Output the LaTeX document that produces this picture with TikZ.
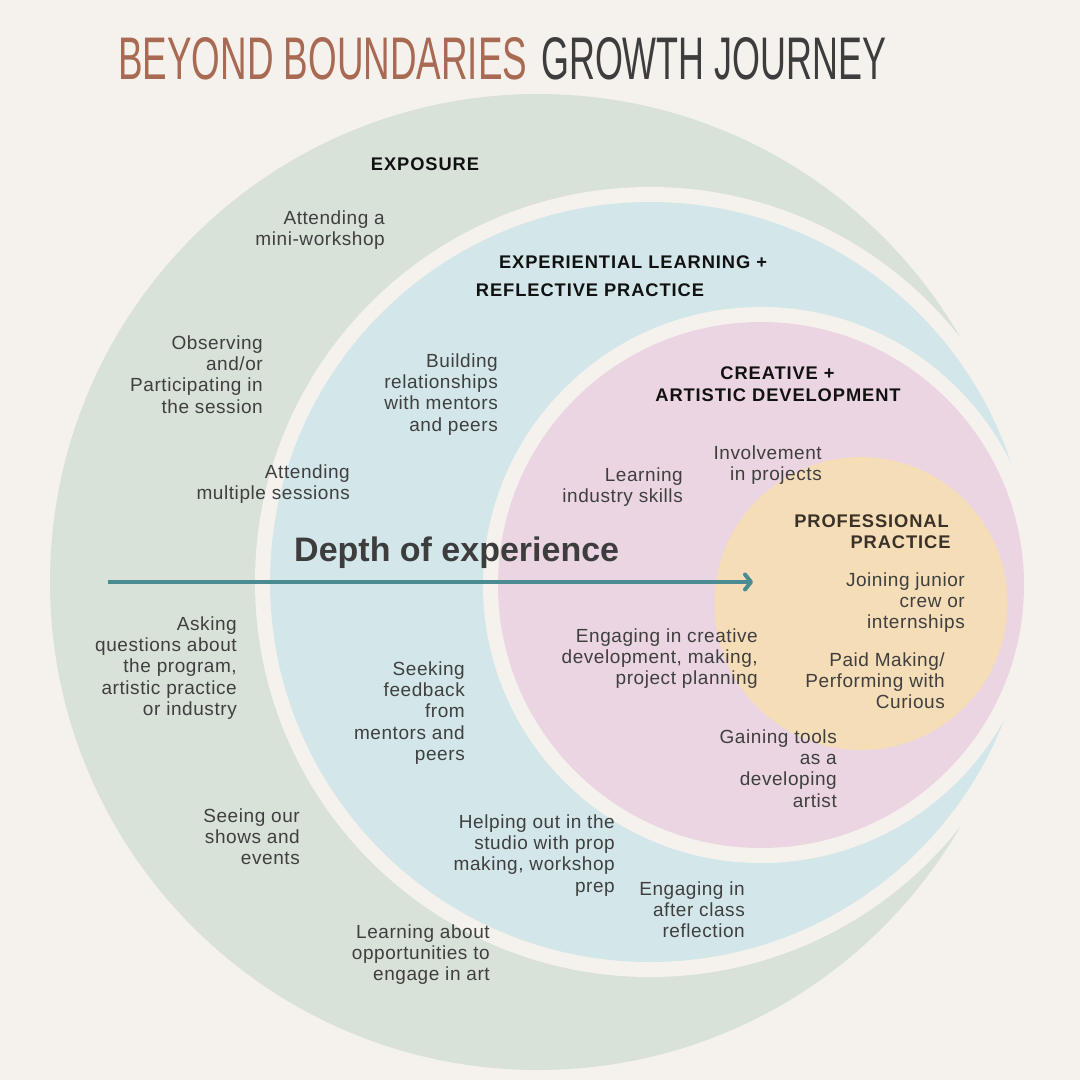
\documentclass[tikz,border=0pt]{standalone}
\usepackage{fontspec}
\usetikzlibrary{arrows.meta}
\setmainfont{Liberation Sans}
\newfontfamily\bodyfont[LetterSpace=3]{Liberation Sans}
\newfontfamily\headfont[LetterSpace=5]{Liberation Sans}
\newfontfamily\depthfont{Liberation Sans}
\newfontfamily\titlefont{Liberation Sans}
\definecolor{bgc}{HTML}{F5F2ED}
\definecolor{greenc}{HTML}{D8E2D8}
\definecolor{bluec}{HTML}{D3E7EA}
\definecolor{pinkc}{HTML}{EBD5E2}
\definecolor{yellowc}{HTML}{F5DDB8}
\definecolor{arrowc}{HTML}{4B8C92}
\definecolor{titlebrown}{HTML}{A96A54}
\definecolor{titlegray}{HTML}{3D3D3D}
\definecolor{bodytext}{HTML}{3F3F3F}
\definecolor{headtext}{HTML}{111111}
\definecolor{proftext}{HTML}{3A3129}
\tikzset{
  bodytxt/.style={font=\bodyfont\fontsize{19}{21.3}\selectfont, text=bodytext, align=right, anchor=north east, inner sep=0pt},
  headtxt/.style={font=\headfont\bfseries\fontsize{18.3}{21.3}\selectfont, text=headtext, anchor=base, inner sep=0pt},
  arrowline/.style={draw=arrowc, line width=4pt, -{Straight Barb[length=6pt,width=15pt,round]}},
}
\begin{document}
\begin{tikzpicture}[x=1pt,y=-1pt]
\useasboundingbox (0,0) rectangle (1080,1080);
\fill[bgc] (0,0) rectangle (1080,1080);
% title
\node[anchor=south west, inner sep=0pt, text=titlebrown] (title1) at (118,80)
  {\resizebox{409pt}{42pt}{\titlefont BEYOND BOUNDARIES}};
\node[anchor=south west, inner sep=0pt, text=titlegray] (title2) at (541,80)
  {\resizebox{345pt}{42pt}{\titlefont GROWTH JOURNEY}};
% circles
\fill[greenc] (538,582) circle[radius=488pt];
\fill[bgc] (650,582) circle[radius=395pt];
\fill[bluec] (650,582) circle[radius=380pt];
\fill[bgc] (761,585) circle[radius=278pt];
\fill[pinkc] (761,585) circle[radius=263pt];
\fill[yellowc] (861,603.5) circle[radius=146.5pt];
% headers
\node[headtxt] (exposure) at (425,170) {EXPOSURE};
\node[headtxt] (exp1) at (633,268) {EXPERIENTIAL LEARNING +};
\node[headtxt] (exp2) at (590,296) {REFLECTIVE PRACTICE};
\node[headtxt] (cre1) at (777.5,379) {CREATIVE +};
\node[headtxt] (cre2) at (778,401) {ARTISTIC DEVELOPMENT};
\node[headtxt, text=proftext] (pro1) at (871.5,527) {PROFESSIONAL};
\node[headtxt, text=proftext] (pro2) at (900.5,548) {PRACTICE};
% depth of experience
\node[anchor=base west, inner sep=0pt, text=titlegray, font=\depthfont\bfseries\fontsize{34}{40}\selectfont] (depth) at (294,561) {Depth of experience};
\coordinate (arrowstart) at (108,582);
\coordinate (arrowend) at (753,582);
\draw[arrowline] (arrowstart) -- (arrowend);
% body texts
\node[bodytxt] (tA) at (385,209.1) {\strut Attending a\\mini-workshop};
\node[bodytxt] (tB) at (263,334.1) {\strut Observing\\and/or\\Participating in\\the session};
\node[bodytxt] (tC) at (498,352.1) {\strut Building\\relationships\\with mentors\\and peers};
\node[bodytxt] (tD) at (350,463.1) {\strut Attending\\multiple sessions};
\node[bodytxt] (tE) at (683,466.1) {\strut Learning\\industry skills};
\node[bodytxt] (tF) at (822,444.1) {\strut Involvement\\in projects};
\node[bodytxt] (tG) at (965,571.1) {\strut Joining junior\\crew or\\internships};
\node[bodytxt] (tH) at (237,615.1) {\strut Asking\\questions about\\the program,\\artistic practice\\or industry};
\node[bodytxt] (tI) at (758,627.1) {\strut Engaging in creative\\development, making,\\project planning};
\node[bodytxt] (tJ) at (945,651.1) {\strut Paid Making/\\Performing with\\Curious};
\node[bodytxt] (tK) at (465,660.1) {\strut Seeking\\feedback\\from\\mentors and\\peers};
\node[bodytxt] (tL) at (837,728.1) {\strut Gaining tools\\as a\\developing\\artist};
\node[bodytxt] (tM) at (300,807.1) {\strut Seeing our\\shows and\\events};
\node[bodytxt] (tN) at (615,813.1) {\strut Helping out in the\\studio with prop\\making, workshop\\prep};
\node[bodytxt] (tO) at (745,880.1) {\strut Engaging in\\after class\\reflection};
\node[bodytxt] (tP) at (490,923.1) {\strut Learning about\\opportunities to\\engage in art};
\end{tikzpicture}
\end{document}
